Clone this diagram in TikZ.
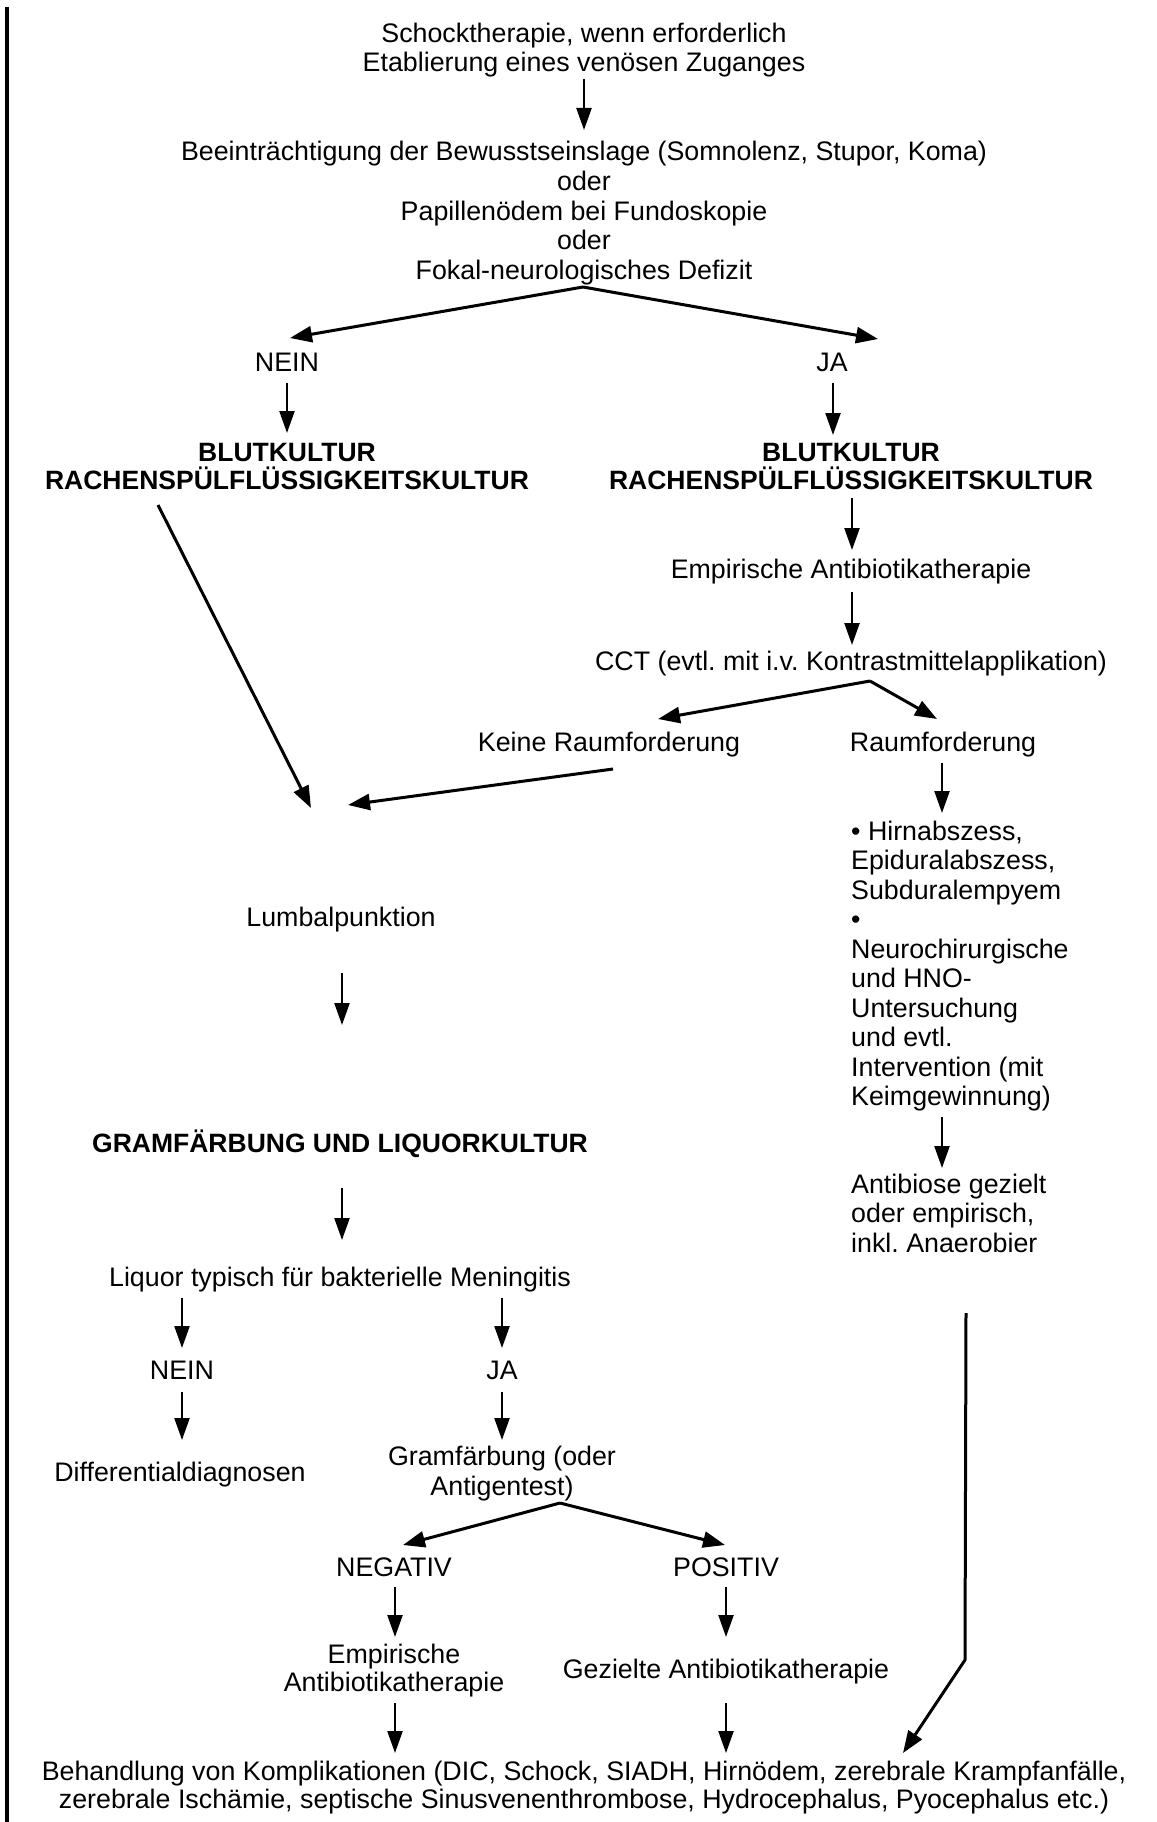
\documentclass[tikz,border=0pt]{standalone}
\usepackage{fontspec}
\setmainfont{Liberation Sans}
\usetikzlibrary{arrows.meta}
\frenchspacing
\begin{document}
\begin{tikzpicture}[x=1pt,y=-1pt,
  txt/.style={anchor=base, inner sep=0pt, font=\fontsize{26.8}{29.5}\selectfont},
  txtl/.style={anchor=base west, inner sep=0pt, font=\fontsize{26.8}{29.5}\selectfont},
  btxt/.style={txt, font=\fontsize{26.5}{29.5}\selectfont\bfseries},
  arr/.style={line width=2.3pt, -{Triangle[length=22pt,width=15pt]}},
  darr/.style={line width=3pt, -{Triangle[length=22pt,width=16pt]}},
  border/.style={line width=3.5pt}]
\useasboundingbox (0,0) rectangle (1156,1822);
\fill[white] (0,0) rectangle (1156,1822);
\draw[border] (7,7) -- (7,1822);

% top
\node[txt] (t1) at (584,43) {Schocktherapie, wenn erforderlich};
\node[txt] (t2) at (584,72) {Etablierung eines venösen Zuganges};
\node[txt] (b1) at (584,161) {Beeinträchtigung der Bewusstseinslage (Somnolenz, Stupor, Koma)};
\node[txt] (b2) at (584,190.5) {oder};
\node[txt] (b3) at (584,220) {Papillenödem bei Fundoskopie};
\node[txt] (b4) at (584,249.5) {oder};
\node[txt] (b5) at (584,279) {Fokal-neurologisches Defizit};
\node[txt] (nein1) at (287,371.5) {NEIN};
\node[txt] (ja1) at (832,371.5) {JA};
\node[btxt] (blutl) at (287,461.5) {BLUTKULTUR};
\node[btxt] (rachl) at (287,489.5) {RACHENSPÜLFLÜSSIGKEITSKULTUR};
\node[btxt] (blutr) at (851,461.5) {BLUTKULTUR};
\node[btxt] (rachr) at (851,489.5) {RACHENSPÜLFLÜSSIGKEITSKULTUR};
\node[txt] (emp1) at (851,578) {Empirische Antibiotikatherapie};
\node[txt] (cct) at (851,670) {CCT (evtl. mit i.v. Kontrastmittelapplikation)};
\node[txt] (keine) at (609,751) {Keine Raumforderung};
\node[txt] (raum) at (943,751) {Raumforderung};
% right block
\node[txtl] (r1) at (851,840) {• Hirnabszess,};
\node[txtl] (r2) at (851,869.5) {Epiduralabszess,};
\node[txtl] (r3) at (851,899) {Subduralempyem};
\node[txtl] (r4) at (851,928.5) {•};
\node[txtl] (r5) at (851,958) {Neurochirurgische};
\node[txtl] (r6) at (851,987.5) {und HNO-};
\node[txtl] (r7) at (851,1017) {Untersuchung};
\node[txtl] (r8) at (851,1046.5) {und evtl.};
\node[txtl] (r9) at (851,1076) {Intervention (mit};
\node[txtl] (r10) at (851,1105.5) {Keimgewinnung)};
\node[txtl] (ab1) at (851,1193) {Antibiose gezielt};
\node[txtl] (ab2) at (851,1222.5) {oder empirisch,};
\node[txtl] (ab3) at (851,1252) {inkl. Anaerobier};
% left column
\node[txt] (lumb) at (341,926) {Lumbalpunktion};
\node[btxt] (gram) at (340,1152.5) {GRAMFÄRBUNG UND LIQUORKULTUR};
\node[txt] (liq) at (340,1286) {Liquor typisch für bakterielle Meningitis};
\node[txt] (nein2) at (182,1379.5) {NEIN};
\node[txt] (ja2) at (502,1379.5) {JA};
\node[txt] (diff) at (180,1481) {Differentialdiagnosen};
\node[txt] (gf1) at (502,1465) {Gramfärbung (oder};
\node[txt] (gf2) at (502,1495) {Antigentest)};
\node[txt] (neg) at (394,1576.5) {NEGATIV};
\node[txt] (pos) at (726,1576.5) {POSITIV};
\node[txt] (emp2a) at (394,1663) {Empirische};
\node[txt] (emp2b) at (394,1691) {Antibiotikatherapie};
\node[txt] (gez) at (726,1678) {Gezielte Antibiotikatherapie};
\node[txt] (beh1) at (584,1780) {Behandlung von Komplikationen (DIC, Schock, SIADH, Hirnödem, zerebrale Krampfanfälle,};
\node[txt] (beh2) at (584,1808) {zerebrale Ischämie, septische Sinusvenenthrombose, Hydrocephalus, Pyocephalus etc.)};

% connector end points
\coordinate (a1s) at (584,79);   \coordinate (a1e) at (584,130);
\coordinate (s1) at (583,287);   \coordinate (s1l) at (290,338); \coordinate (s1r) at (878,339);
\coordinate (n1s) at (287,383);  \coordinate (n1e) at (287,433);
\coordinate (j1s) at (833,383);  \coordinate (j1e) at (833,435);
\coordinate (dgs) at (158,505);  \coordinate (dge) at (311,808);
\coordinate (brs) at (852,498);  \coordinate (bre) at (852,550);
\coordinate (ems) at (852,592);  \coordinate (eme) at (852,645);
\coordinate (s2) at (870,681);   \coordinate (s2l) at (658,719); \coordinate (s2r) at (937,719);
\coordinate (kes) at (613,769);  \coordinate (kee) at (348,805);
\coordinate (ras) at (942,763);  \coordinate (rae) at (942,813);
\coordinate (his) at (942,1117); \coordinate (hie) at (942,1168);
\coordinate (lgs) at (966,1313); \coordinate (lgm) at (965,1660); \coordinate (lge) at (903,1753);
\coordinate (lus) at (342,973);  \coordinate (lue) at (342,1025);
\coordinate (grs) at (342,1188); \coordinate (gre) at (342,1240);
\coordinate (lls) at (182,1298); \coordinate (lle) at (182,1348);
\coordinate (lrs) at (502,1298); \coordinate (lre) at (502,1348);
\coordinate (n2s) at (182,1392); \coordinate (n2e) at (182,1440);
\coordinate (j2s) at (502,1392); \coordinate (j2e) at (502,1440);
\coordinate (s3) at (560,1503);  \coordinate (s3l) at (403,1545); \coordinate (s3r) at (725,1545);
\coordinate (ngs) at (395,1587); \coordinate (nge) at (395,1637);
\coordinate (pss) at (726,1587); \coordinate (pse) at (726,1637);
\coordinate (e2s) at (395,1703); \coordinate (e2e) at (395,1753);
\coordinate (gzs) at (726,1703); \coordinate (gze) at (726,1753);

% connectors
\draw[arr] (a1s) -- (a1e);
\draw[darr] (s1) -- (s1l);
\draw[darr] (s1) -- (s1r);
\draw[arr] (n1s) -- (n1e);
\draw[arr] (j1s) -- (j1e);
\draw[darr] (dgs) -- (dge);
\draw[arr] (brs) -- (bre);
\draw[arr] (ems) -- (eme);
\draw[darr] (s2) -- (s2l);
\draw[darr] (s2) -- (s2r);
\draw[darr] (kes) -- (kee);
\draw[arr] (ras) -- (rae);
\draw[arr] (his) -- (hie);
\draw[darr, line join=round] (lgs) -- (lgm) -- (lge);
\draw[arr] (lus) -- (lue);
\draw[arr] (grs) -- (gre);
\draw[arr] (lls) -- (lle);
\draw[arr] (lrs) -- (lre);
\draw[arr] (n2s) -- (n2e);
\draw[arr] (j2s) -- (j2e);
\draw[darr] (s3) -- (s3l);
\draw[darr] (s3) -- (s3r);
\draw[arr] (ngs) -- (nge);
\draw[arr] (pss) -- (pse);
\draw[arr] (e2s) -- (e2e);
\draw[arr] (gzs) -- (gze);
\end{tikzpicture}
\end{document}
